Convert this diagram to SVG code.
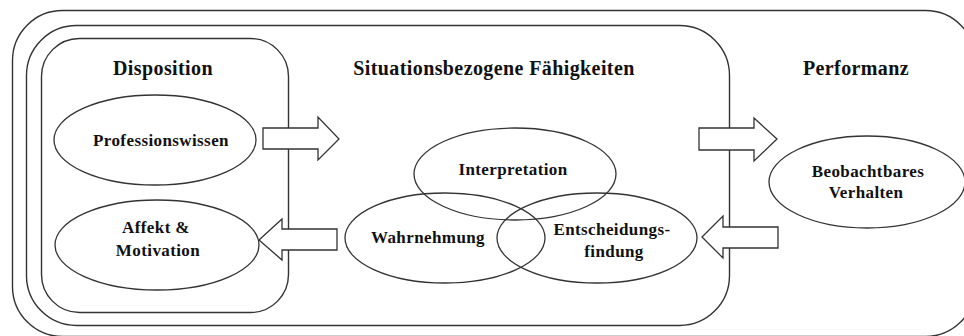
<svg xmlns="http://www.w3.org/2000/svg" width="964" height="336" viewBox="0 0 964 336">
<style>
.frame{fill:none;stroke:#333;stroke-width:1.4}
.ell{fill:none;stroke:#333;stroke-width:1.3}
.arrow{fill:#fff;stroke:#333;stroke-width:1.3;stroke-linejoin:miter}
.title{font-family:"Liberation Serif","Times New Roman",Times,serif;font-weight:bold;font-size:20px;letter-spacing:0.4px;fill:#111;text-anchor:middle}
.lbl{font-family:"Liberation Serif","Times New Roman",Times,serif;font-weight:bold;font-size:17px;letter-spacing:0.4px;fill:#111;text-anchor:middle}
</style>
<rect width="964" height="336" fill="#fff"/>
<g id="performanz">
<rect class="frame" x="12.5" y="10.5" width="963" height="326" rx="50" ry="50"/>
<text class="title" x="856" y="75">Performanz</text>
</g>
<g id="situation">
<rect class="frame" x="26.5" y="25.5" width="703" height="300" rx="50" ry="50"/>
<text class="title" x="494" y="75">Situationsbezogene Fähigkeiten</text>
</g>
<g id="disposition">
<rect class="frame" x="41.5" y="38.5" width="247" height="274" rx="38" ry="38"/>
<text class="title" x="163" y="75">Disposition</text>
</g>
<g id="professionswissen">
<ellipse class="ell" cx="155" cy="140" rx="101" ry="45"/>
<text class="lbl" x="161" y="146">Professionswissen</text>
</g>
<g id="affekt">
<ellipse class="ell" cx="157" cy="245" rx="102" ry="45"/>
<text class="lbl" x="156" y="233">Affekt &amp;</text>
<text class="lbl" x="158" y="256">Motivation</text>
</g>
<g id="interpretation">
<ellipse class="ell" cx="515" cy="174" rx="101" ry="46"/>
<text class="lbl" x="513" y="175">Interpretation</text>
</g>
<g id="wahrnehmung">
<ellipse class="ell" cx="445" cy="238" rx="100" ry="45"/>
<text class="lbl" x="428" y="243">Wahrnehmung</text>
</g>
<g id="entscheidungsfindung">
<ellipse class="ell" cx="597" cy="238" rx="100" ry="45"/>
<text class="lbl" x="612" y="235">Entscheidungs-</text>
<text class="lbl" x="614" y="257">findung</text>
</g>
<g id="verhalten">
<ellipse class="ell" cx="867" cy="182" rx="98" ry="46"/>
<text class="lbl" x="868" y="177">Beobachtbares</text>
<text class="lbl" x="866" y="198">Verhalten</text>
</g>
<g id="connectors">
<polygon class="arrow" points="263,128 318,128 318,117 339,139 318,160 318,149 263,149"/>
<polygon class="arrow" points="337,229 282,229 282,219 259,240 282,260 282,250 337,250"/>
<polygon class="arrow" points="699,128 754,128 754,118 777,139 754,161 754,150 699,150"/>
<polygon class="arrow" points="778,227 723,227 723,216 702,237 723,258 723,248 778,248"/>
</g>
</svg>
